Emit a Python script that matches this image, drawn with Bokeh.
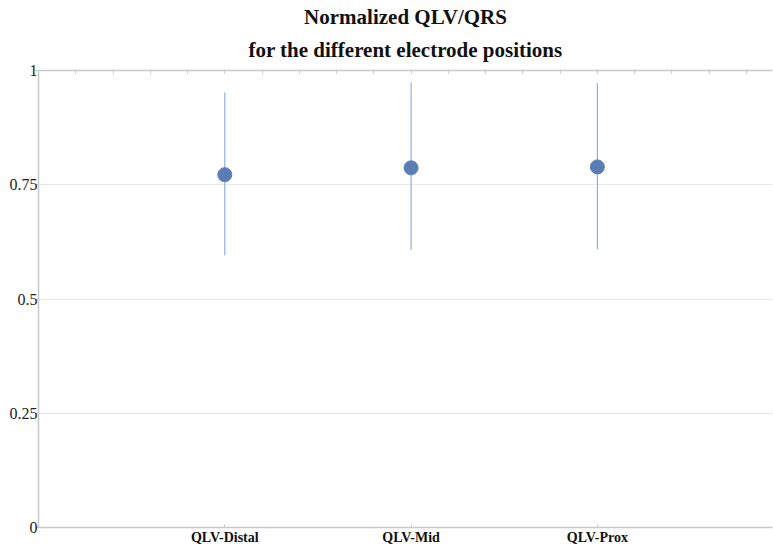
from bokeh.plotting import figure
from bokeh.models import LinearAxis, FixedTicker, Range1d, ColumnDataSource, Title
from bokeh.embed import file_html
from bokeh.resources import INLINE

categories = ["QLV-Distal", "QLV-Mid", "QLV-Prox"]
means = [0.772, 0.787, 0.789]
lower = [0.596, 0.607, 0.609]
upper = [0.952, 0.974, 0.972]
y_ticks = [0, 0.25, 0.5, 0.75, 1]
y_labels = ["0", "0.25", "0.5", "0.75", "1"]

xs = [i + 1 for i in range(len(categories))]
src = ColumnDataSource(dict(x=xs, m=means, lo=lower, hi=upper))

FONT = "Liberation Serif"
AXC = "#c8c8c8"

p = figure(width=773, height=547, output_backend="svg", toolbar_location=None,
           x_range=Range1d(0, 3.94), y_range=Range1d(0, 1),
           x_axis_location="below", min_border_left=38, min_border_right=1,
           min_border_top=70, min_border_bottom=17)
p.outline_line_color = None
p.background_fill_color = "white"
p.title = None

xa = p.below[0]
ya = p.left[0]

# top axis with small inward ticks, no labels (closest to the frame)
top = LinearAxis(ticker=FixedTicker(ticks=[round(0.2 * i, 1) for i in range(1, 20)]))
top.axis_line_color = AXC
top.axis_line_width = 1.5
top.major_tick_line_color = AXC
top.major_tick_in = 3
top.major_tick_out = 0
top.minor_tick_line_color = None
top.major_label_text_color = None
top.major_label_text_font_size = "4px"
top.major_label_standoff = 0
p.add_layout(top, "above")

# two centered title lines (inner first)
p.add_layout(Title(text="for the different electrode positions", align="center",
                   text_font=FONT, text_font_size="21px", text_font_style="bold",
                   text_color="#111111", offset=0, standoff=17), "above")
p.add_layout(Title(text="Normalized QLV/QRS", align="center",
                   text_font=FONT, text_font_size="21px", text_font_style="bold",
                   text_color="#111111", offset=0, standoff=-2), "above")

# grids
p.xgrid.visible = False
p.ygrid.ticker = FixedTicker(ticks=y_ticks)
p.ygrid.grid_line_color = "#e8e8e8"
p.ygrid.grid_line_width = 1

# y axis
ya.ticker = FixedTicker(ticks=y_ticks)
ya.major_label_overrides = {t: l for t, l in zip(y_ticks, y_labels)}
ya.axis_line_color = AXC
ya.axis_line_width = 1.5
ya.major_tick_line_color = AXC
ya.major_tick_out = 3
ya.major_tick_in = 0
ya.minor_tick_line_color = None
ya.major_label_standoff = -2
ya.major_label_text_font = FONT
ya.major_label_text_font_size = "16px"
ya.major_label_text_color = "#222222"

# x axis
xa.ticker = FixedTicker(ticks=xs)
xa.major_label_overrides = {x: c for x, c in zip(xs, categories)}
xa.axis_line_color = AXC
xa.axis_line_width = 1.5
xa.major_tick_line_color = AXC
xa.major_tick_in = 3
xa.major_tick_out = 0
xa.minor_tick_line_color = None
xa.major_label_standoff = 2
xa.major_label_text_font = FONT
xa.major_label_text_font_size = "14px"
xa.major_label_text_font_style = "bold"
xa.major_label_text_color = "#111111"

p.segment(x0="x", y0="lo", x1="x", y1="hi", source=src, line_color="#8fb0e0", line_width=1.2)
p.scatter(x="x", y="m", source=src, size=14, fill_color="#5b7db5", line_color="#5b7db5")

open("out.html", "w").write(file_html(p, INLINE))
